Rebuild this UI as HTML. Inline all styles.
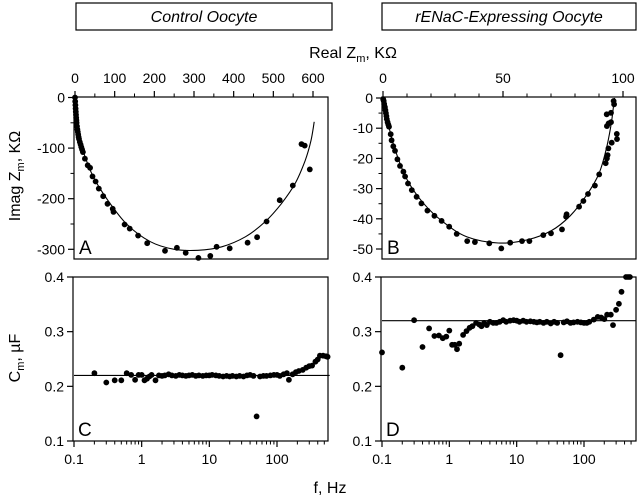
<!DOCTYPE html>
<html><head><meta charset="utf-8"><style>
body{margin:0;background:#fff;}
svg{display:block;font-family:"Liberation Sans",Arial,sans-serif;}
</style></head><body>
<svg id="fig" width="640" height="498" viewBox="0 0 640 498">
<rect x="76" y="3" width="256" height="27" fill="#fff" stroke="#000" stroke-width="1.2"/>
<text x="204" y="22" font-size="16" font-style="italic" text-anchor="middle">Control Oocyte</text>
<rect x="382" y="3" width="254" height="27" fill="#fff" stroke="#000" stroke-width="1.2"/>
<text x="509" y="22" font-size="16" font-style="italic" text-anchor="middle">rENaC-Expressing Oocyte</text>
<text x="353" y="58" font-size="16" text-anchor="middle">Real Z<tspan font-size="11" dy="4">m</tspan><tspan dy="-4">, KΩ</tspan></text>
<text transform="translate(20,176) rotate(-90)" font-size="16" text-anchor="middle">Imag Z<tspan font-size="11" dy="4">m</tspan><tspan dy="-4">, KΩ</tspan></text>
<text transform="translate(20,358) rotate(-90)" font-size="16" text-anchor="middle">C<tspan font-size="11" dy="4">m</tspan><tspan dy="-4">, µF</tspan></text>
<text x="330" y="493" font-size="16" text-anchor="middle">f, Hz</text>
<g id="root"></g>
</svg>
<script>
const aReal=[0,0.5,1,1.5,2,2.5,3,3.5,4,5,6,7,8,9,10,12,14,16,18,20,25,32,38,44,52,60,71,82,95,97,125,138,159,182,227,257,279,311,341,357,390,435,459,483,516,549,571,579,592];
const aImag=[0,-8,-15,-22,-28,-34,-40,-45,-50,-57,-63,-68,-73,-78,-82,-88,-93,-98,-103,-108,-121,-134,-139,-156,-166,-180,-195,-210,-220,-226,-251,-259,-273,-288,-303,-297,-307,-317,-313,-295,-298,-287,-276,-245,-203,-174,-92,-95,-142];
const aFitReal=[0,2,5,10,20,45,80,130,190,250,310,370,430,480,520,555,580,595,603];
const aFitImag=[0,-25,-50,-75,-105,-155,-200,-250,-285,-300,-302,-295,-275,-245,-210,-170,-125,-85,-48];
const bReal=[0.1,0.3,0.5,0.8,1,1.2,1.4,1.6,1.9,2.2,2.5,3.2,3.6,4.3,5,6,7.1,8.5,9.2,10.4,12,14,16,18.5,21.4,24.4,27.6,30.7,35.1,38.3,44.3,49.3,53,57.9,61,66.8,70,74.6,76.3,76.5,81.7,83.5,85.4,88.3,90.1,92.8,93.3,93.6,93.9,95.3,93.3,94,95,93.2,95,96.3,96.1,97.4,97.5];
const bImag=[-0.4,-1,-2,-3,-4,-5,-6,-7,-8,-8.8,-9.5,-12,-14,-16,-17.5,-20.3,-22.5,-24.4,-26,-28.3,-30.5,-32.7,-34.9,-37.3,-39,-40.7,-42.6,-45,-47.4,-47.7,-48.1,-49.8,-47.9,-47.4,-47.4,-45.4,-44.8,-43.5,-39.3,-38.5,-36,-34.1,-31.8,-29,-25.3,-21.6,-20,-18.9,-16.7,-14.8,-9.3,-8.4,-8,-5.4,-4.9,-2.1,-1,-11.9,-13.6];
const bFitReal=[0,2,5,10,17,25,35,48,60,70,78,85,90,93,95,96,96.5];
const bFitImag=[0,-8,-17,-27,-35,-41,-46,-48,-47,-44,-39,-32,-25,-17,-9,-3,0];
const cFreq=[0.2,0.3,0.4,0.5,0.6,0.7,0.8,0.9,1,1.1,1.2,1.3,1.4,1.6,1.8,2,2.2,2.5,2.8,3.2,3.6,4,4.5,5,5.6,6.3,7,8,9,10,11,12.5,14,16,18,20,22,25,28,32,36,40,45,50,56,63,70,80,90,100,110,125,140,150,170,190,210,240,270,300,330,370,400,430,480,530,560];
const cCap=[0.224,0.207,0.211,0.211,0.224,0.221,0.212,0.221,0.221,0.211,0.214,0.218,0.221,0.211,0.22,0.219,0.22,0.222,0.22,0.219,0.221,0.22,0.219,0.22,0.221,0.219,0.22,0.219,0.22,0.22,0.221,0.22,0.219,0.218,0.219,0.218,0.219,0.218,0.219,0.218,0.22,0.221,0.219,0.145,0.218,0.219,0.219,0.22,0.221,0.221,0.219,0.222,0.224,0.212,0.222,0.226,0.228,0.23,0.234,0.237,0.238,0.245,0.249,0.256,0.256,0.255,0.254];
const dFreq=[0.1,0.2,0.3,0.4,0.5,0.6,0.7,0.8,0.9,1,1.1,1.2,1.3,1.4,1.6,1.8,2,2.2,2.5,2.8,3,3.3,3.6,4,4.5,5,5.6,6.3,7,8,9,10,11,12.5,14,16,18,20,22,25,28,32,36,40,45,50,56,63,70,80,90,100,110,120,140,160,180,200,220,250,270,300,330,360,420,450,480];
const dCap=[0.262,0.234,0.321,0.272,0.306,0.292,0.293,0.288,0.291,0.302,0.276,0.276,0.268,0.278,0.294,0.301,0.307,0.31,0.316,0.313,0.31,0.316,0.312,0.318,0.316,0.316,0.318,0.321,0.318,0.32,0.321,0.32,0.318,0.32,0.318,0.319,0.318,0.317,0.318,0.316,0.318,0.315,0.318,0.316,0.257,0.317,0.319,0.316,0.317,0.318,0.317,0.316,0.316,0.318,0.322,0.327,0.326,0.323,0.331,0.331,0.312,0.34,0.351,0.373,0.4,0.4,0.4];
const cFit=0.22, dFit=0.32;
const realTicksA=[0,100,200,300,400,500,600];
const imagTicksA=[0,-100,-200,-300];
const realTicksB=[0,50,100];
const imagTicksB=[0,-10,-20,-30,-40,-50];
const capTicks=[0.1,0.2,0.3,0.4];
const freqTicks=[0.1,1,10,100];

const NS="http://www.w3.org/2000/svg";
const root=document.getElementById('root');
function mk(tag,attrs,parent){const e=document.createElementNS(NS,tag);for(const k in attrs)e.setAttribute(k,attrs[k]);(parent||root).appendChild(e);return e;}
function lin(d0,d1,r0,r1){return v=>r0+(v-d0)*(r1-r0)/(d1-d0);}
function logs(d0,d1,r0,r1){return v=>r0+(Math.log10(v)-Math.log10(d0))*(r1-r0)/(Math.log10(d1)-Math.log10(d0));}
function fmt(v){return String(v);}

function panel(id,L,T,R,B,xs,ys,opts){
  const g=mk('g',{});
  
  
  const cp=mk('clipPath',{id:'cp'+id},g);mk('rect',{x:L,y:T-3,width:R-L+4,height:B-T+3},cp);
  const box=mk('rect',{x:L,y:T,width:R-L,height:B-T,fill:'none',stroke:'#000','stroke-width':1.2},g);
  
  
  opts.xTicks.forEach(v=>{const x=xs(v);
    const yy=opts.xTop?T:B; const dir=opts.xTop?-1:1;
    mk('line',{x1:x,x2:x,y1:yy,y2:yy+dir*6,stroke:'#000','stroke-width':1.2},g);
    const t=mk('text',{x:x,y:opts.xTop?yy-14:yy+23,'font-size':14,'text-anchor':'middle'},g);t.textContent=fmt(v);
    
    
  });
  (opts.xMinor||[]).forEach(v=>{const x=xs(v);const yy=opts.xTop?T:B;const dir=opts.xTop?-1:1;
    mk('line',{x1:x,x2:x,y1:yy,y2:yy+dir*3.5,stroke:'#000','stroke-width':1},g);});
  opts.yTicks.forEach(v=>{const y=ys(v);
    mk('line',{x1:L,x2:L-6,y1:y,y2:y,stroke:'#000','stroke-width':1.2},g);
    const t=mk('text',{x:L-9,y:y+5,'font-size':14,'text-anchor':'end'},g);t.textContent=fmt(v);
    
    
  });
  (opts.yMinor||[]).forEach(v=>{const y=ys(v);mk('line',{x1:L,x2:L-3.5,y1:y,y2:y,stroke:'#000','stroke-width':1},g);});
  const lt=mk('text',{x:L+5,y:B-5,'font-size':19},g);lt.textContent=id;
  
  
  return g;
}
function line(g,xs,ys,X,Y,id){
  const P=X.map((v,i)=>[xs(v),ys(Y[i])]);
  let d='M'+P[0][0].toFixed(1)+','+P[0][1].toFixed(1);
  for(let i=0;i<P.length-1;i++){
    const p0=P[Math.max(0,i-1)],p1=P[i],p2=P[i+1],p3=P[Math.min(P.length-1,i+2)];
    const c1=[p1[0]+(p2[0]-p0[0])/6,p1[1]+(p2[1]-p0[1])/6];
    const c2=[p2[0]-(p3[0]-p1[0])/6,p2[1]-(p3[1]-p1[1])/6];
    d+='C'+c1.map(n=>n.toFixed(1)).join(',')+' '+c2.map(n=>n.toFixed(1)).join(',')+' '+p2.map(n=>n.toFixed(1)).join(',');
  }
  const p=mk('path',{d:d,fill:'none',stroke:'#000','stroke-width':1.1,'clip-path':'url(#cp'+id+')'},g);
  
  }
function dots(g,xs,ys,X,Y,id){X.forEach((v,i)=>{const c=mk('circle',{cx:xs(v).toFixed(1),cy:ys(Y[i]).toFixed(1),r:2.9,fill:'#000'},g);
  
  });}

let xs=lin(0,600,75,313), ys=lin(0,-300,97.5,249.3);
let g=panel('A',74,97,328,259,xs,ys,{xTop:true,xTicks:realTicksA,xMinor:[50,150,250,350,450,550],yTicks:imagTicksA,yMinor:[-50,-150,-250]});
line(g,xs,ys,aFitReal,aFitImag,'A');dots(g,xs,ys,aReal,aImag,'A');
xs=lin(0,100,383,623); ys=lin(0,-50,98,249);
g=panel('B',382,97,636,259,xs,ys,{xTop:true,xTicks:realTicksB,xMinor:[10,20,30,40,60,70,80,90],yTicks:imagTicksB,yMinor:[-5,-15,-25,-35,-45]});
line(g,xs,ys,bFitReal,bFitImag,'B');dots(g,xs,ys,bReal,bImag,'B');
const minor=[];[0.1,1,10,100].forEach(d=>{for(let k=2;k<=9;k++){if(d*k<600)minor.push(d*k);}});
xs=logs(0.1,100,74,277); ys=lin(0.4,0.1,277,441);
g=panel('C',73,277,328,441,xs,ys,{xTop:false,xTicks:freqTicks,xMinor:minor.filter(v=>xs(v)<328),yTicks:capTicks});
line(g,xs,ys,[0.1,600],[cFit,cFit],'C');dots(g,xs,ys,cFreq,cCap,'C');
xs=logs(0.1,100,382,584); ys=lin(0.4,0.1,277,441);
g=panel('D',381,277,636,441,xs,ys,{xTop:false,xTicks:freqTicks,xMinor:minor.filter(v=>xs(v)<636),yTicks:capTicks});
line(g,xs,ys,[0.1,600],[dFit,dFit],'D');dots(g,xs,ys,dFreq,dCap,'D');
</script>
</body></html>
